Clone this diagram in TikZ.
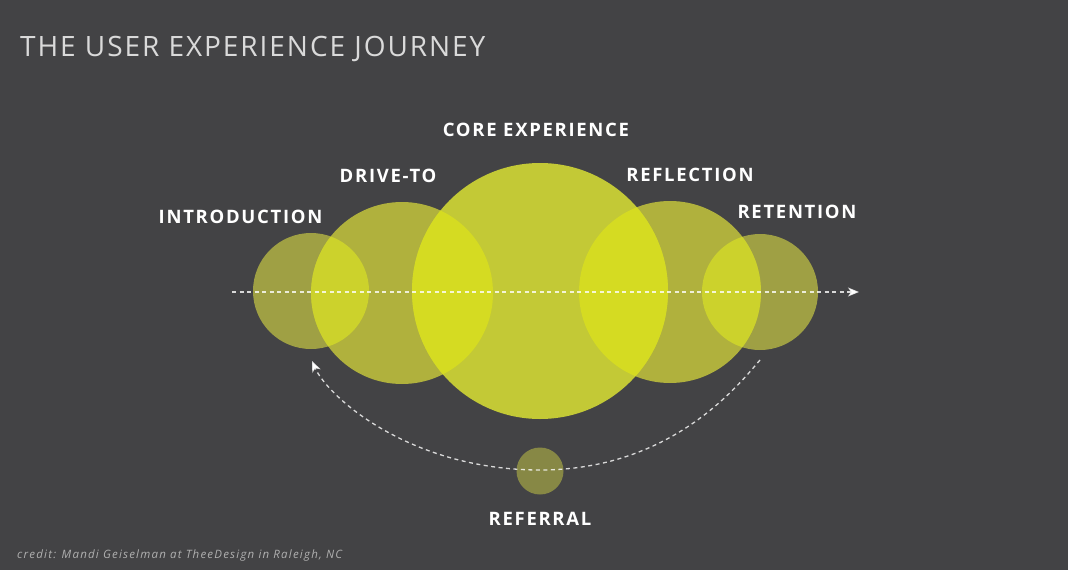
\documentclass[tikz,border=0pt]{standalone}
\usepackage{fontspec}
\setmainfont{Open Sans}
\usetikzlibrary{arrows.meta}
\definecolor{bg}{HTML}{434345}
\definecolor{smallc}{HTML}{9FA044}
\definecolor{midc}{HTML}{B0B13D}
\definecolor{corec}{HTML}{C3C936}
\definecolor{lensA}{HTML}{CCD22C}
\definecolor{lensB}{HTML}{D5DB22}
\definecolor{refc}{HTML}{878845}
\definecolor{titlec}{HTML}{DADADA}
\definecolor{creditc}{HTML}{B0B0B0}
\begin{document}
\begin{tikzpicture}[x=1pt,y=-1pt,
  bubble/.style={circle,draw=none,inner sep=0pt,minimum size=#1},
  lbl/.style={anchor=base,text=white,inner sep=0pt,font=\fontsize{18.5}{20}\selectfont\bfseries\addfontfeatures{LetterSpace=9.2}},
  flow/.style={draw=white,draw opacity=0.8,line width=1.3pt,dash pattern=on 4pt off 3.5pt,
    -{Stealth[length=11pt,width=9pt,inset=3pt,fill=white]}}
]
\useasboundingbox (0,0) rectangle (1068,570);
\fill[bg] (0,0) rectangle (1068,570);

% circles
\node[bubble=116pt,fill=smallc] (intro) at (311,291) {};
\node[bubble=116pt,fill=smallc] (reten) at (760,292) {};
\node[bubble=182pt,fill=midc] (drive) at (402,293) {};
\node[bubble=182pt,fill=midc] (refl) at (670,292) {};
\node[bubble=256pt,fill=corec] (core) at (540,291) {};
\node[bubble=47pt,fill=refc] (refer) at (540,471) {};

% overlaps
\begin{scope}
  \clip (intro.center) circle (58pt);
  \fill[lensA] (drive.center) circle (91pt);
\end{scope}
\begin{scope}
  \clip (reten.center) circle (58pt);
  \fill[lensA] (refl.center) circle (91pt);
\end{scope}
\begin{scope}
  \clip (core.center) circle (128pt);
  \fill[lensB] (drive.center) circle (91pt);
  \fill[lensB] (refl.center) circle (91pt);
\end{scope}

% connectors
\coordinate (lineStart) at (232,292);
\coordinate (lineEnd) at (859,292);
\draw[flow] (lineStart) -- (lineEnd);

\coordinate (arcStart) at (760,360);
\coordinate (arcEnd) at (312,361);
\draw[flow] (arcStart) .. controls (737,387) and (670,470) .. (540,470)
  .. controls (410,470) and (328,397) .. (arcEnd);

% labels
\node[lbl] (tintro) at (240.5,223) {INTRODUCTION};
\node[lbl] (tdrive) at (388,182) {DRIVE-TO};
\node[lbl] (tcore) at (536,136) {CORE EXPERIENCE};
\node[lbl] (trefl) at (690,181) {REFLECTION};
\node[lbl] (treten) at (797,218) {RETENTION};
\node[lbl] (trefer) at (540,525) {REFERRAL};

\node[anchor=base west,inner sep=0pt,text=titlec,font=\fontsize{28}{30}\selectfont\addfontfeatures{LetterSpace=6.9}] (title) at (20,56) {THE USER EXPERIENCE JOURNEY};
\node[anchor=base west,inner sep=0pt,text=creditc,font=\fontsize{11.5}{12}\selectfont\itshape\addfontfeatures{LetterSpace=10.5}] (credit) at (17,558) {credit: Mandi Geiselman at TheeDesign in Raleigh, NC};
\end{tikzpicture}
\end{document}
